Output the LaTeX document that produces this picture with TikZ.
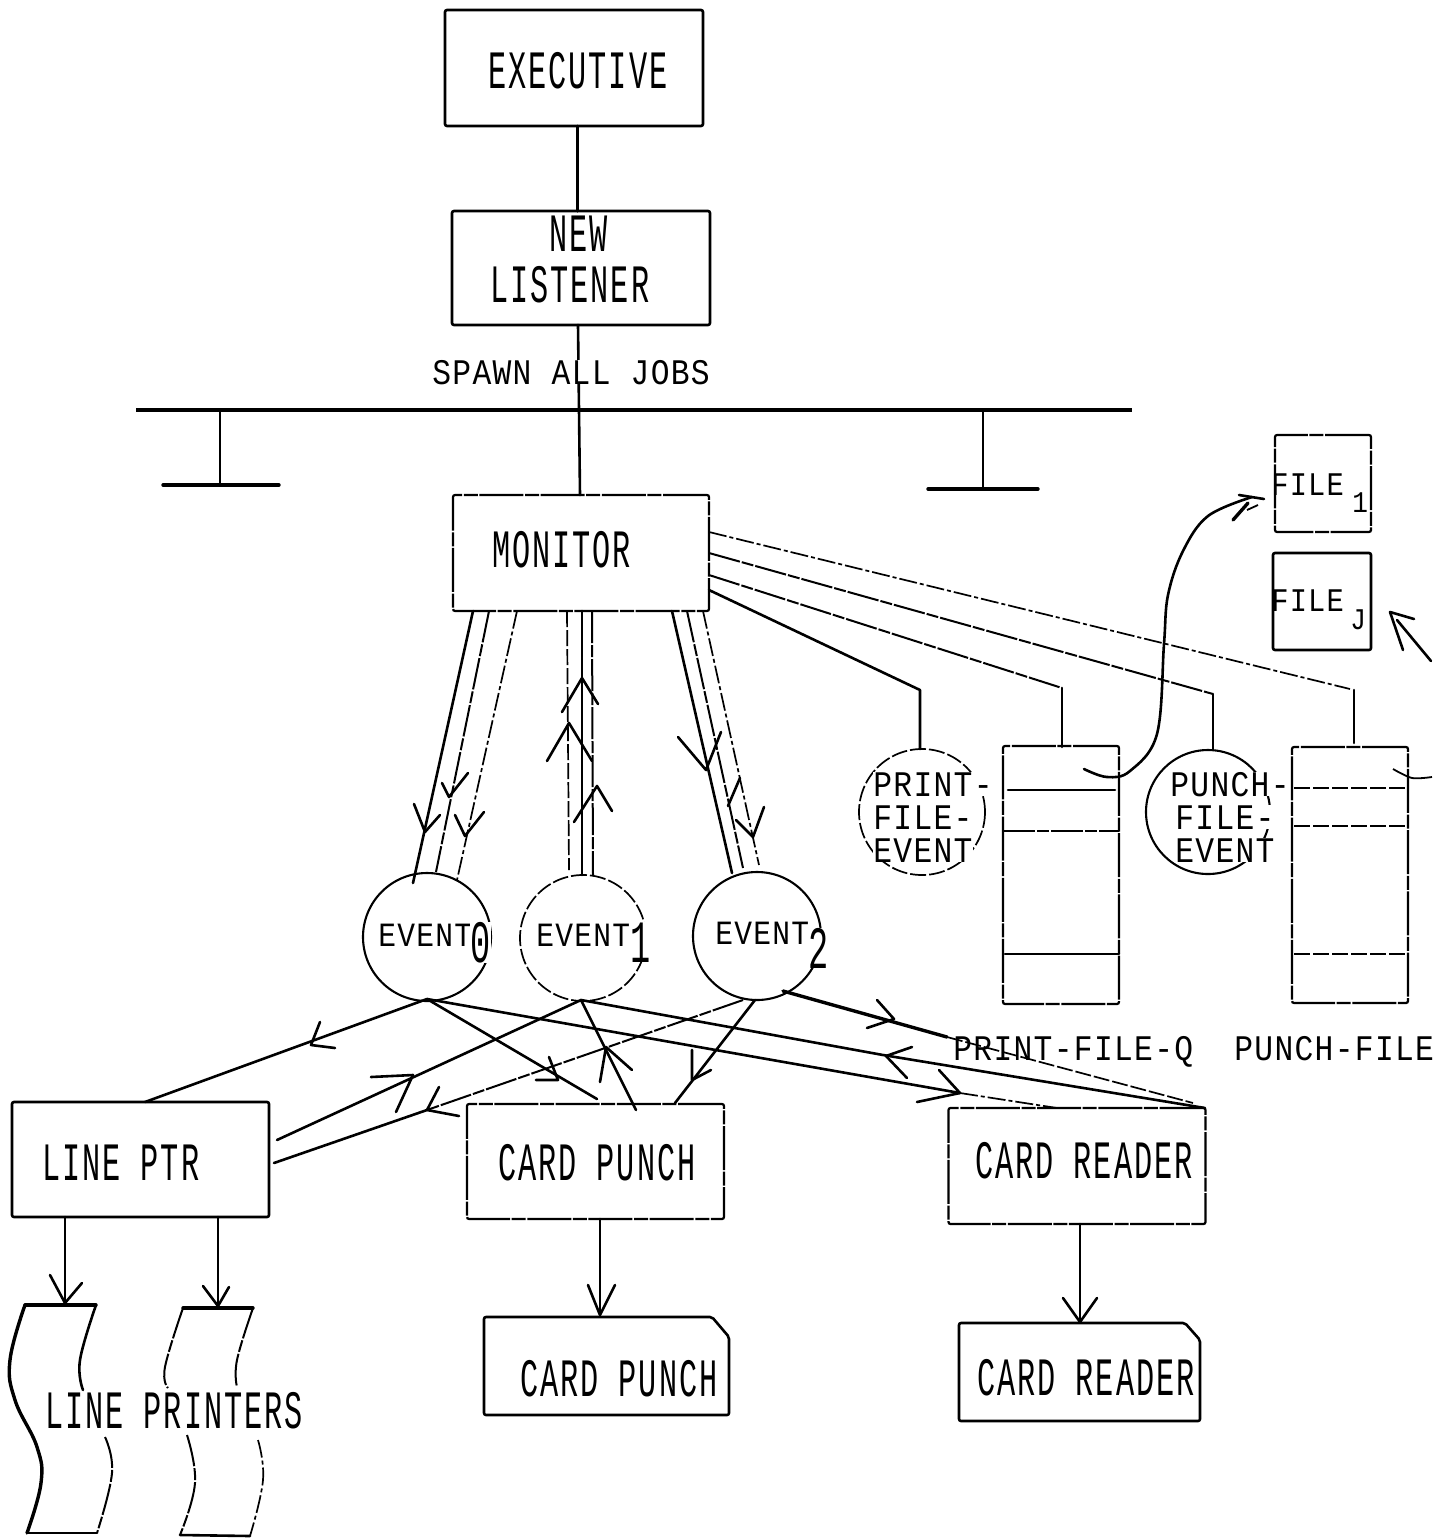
\documentclass[tikz,border=0pt]{standalone}
\usepackage{fontspec}
\setmainfont{Liberation Mono}
\newfontfamily\bigf[FakeStretch=0.56,LetterSpace=3.6]{Liberation Mono}
\newfontfamily\smf[FakeStretch=0.87,LetterSpace=3.6]{Liberation Mono}
\newcommand\bigtxt{\bigf\fontsize{27}{27}\selectfont}
\newcommand\subtxt{\bigf\fontsize{30}{30}\selectfont}
\newcommand\smtxt{\smf\fontsize{18}{18}\selectfont}
\newcommand\evtxt{\smf\fontsize{17}{17}\selectfont}
\newcommand\filetxt{\smf\fontsize{16.5}{16.5}\selectfont}
\newcommand\subsm{\smf\fontsize{15}{15}\selectfont}
\newcommand\barbs[3]{\draw[ink] (#2) -- (#1) -- (#3);}
\tikzset{
  ink/.style={line width=1.3pt,line cap=round,line join=round},
  heavy/.style={line width=1.7pt,line cap=round},
  thinink/.style={line width=.9pt},
  brk/.style={line width=1pt,dash pattern=on 16pt off 1pt on 6pt off 1pt},
  dots/.style={line width=.85pt,dash pattern=on 9pt off 1.5pt on 2pt off 1.5pt},
  faint/.style={line width=.85pt,dash pattern=on 8pt off 1.5pt},
  box/.style={draw,line width=1.3pt,inner sep=0,rounded corners=1pt},
  dashbox/.style={box,line width=1.1pt,dash pattern=on 22pt off .8pt on 7pt off .8pt},
  ring/.style={draw,circle,inner sep=0,line width=1.05pt},
  txt/.style={anchor=base west,inner sep=0},
}
\begin{document}
\begin{tikzpicture}[x=.5pt,y=-.5pt]
\useasboundingbox (0,0) rectangle (1432,1538);
% boxes
\node[box,minimum width=129pt,minimum height=58pt] (exec) at (574,68) {};
\node[box,minimum width=129pt,minimum height=57pt] (newl) at (581,268) {};
\node[dashbox,minimum width=128pt,minimum height=58pt] (mon) at (581,553) {};
\node[box,minimum width=128.5pt,minimum height=57.5pt] (lptr) at (140.5,1159.5) {};
\node[dashbox,minimum width=128.5pt,minimum height=57.5pt] (cpunch) at (595.5,1161.5) {};
\node[dashbox,minimum width=128.5pt,minimum height=58pt] (cread) at (1077,1166) {};
\node[dashbox,minimum width=48pt,minimum height=48.5pt] (f1) at (1323,483.5) {};
\node[box,minimum width=49pt,minimum height=48.5pt] (fj) at (1322,601.5) {};
% queues
\node[dashbox,minimum width=58pt,minimum height=129pt] (pq) at (1061,875) {};
\node[dashbox,minimum width=58pt,minimum height=128pt] (uq) at (1350,875) {};
% circles
\node[ring,minimum size=64pt] (e0) at (427,937) {};
\node[ring,faint,minimum size=63pt] (e1) at (583,938) {};
\node[ring,minimum size=64pt] (e2) at (757,936) {};
\node[ring,faint,minimum size=63pt] (pe) at (922,812) {};
\node[ring,minimum size=62pt] (ue) at (1208,812) {};
% trunk and bus
\coordinate (busL) at (136,410); \coordinate (busR) at (1132,410);
\coordinate (busM) at (579,410);
\coordinate (stemL) at (220,410); \coordinate (stemR) at (983,410);
\coordinate (footL1) at (163,485); \coordinate (footL2) at (279,485); \coordinate (footLm) at (220,485);
\coordinate (footR1) at (928,489); \coordinate (footR2) at (1038,489); \coordinate (footRm) at (983,489);
\draw[ink,line width=1.5pt] (577,126) -- (577,211);
\draw[ink] (578,325) -- (busM) -- (580,495);
\draw[line width=2pt] (busL) -- (busR);
\draw[ink] (stemL) -- (footLm); \draw[heavy] (footL1) -- (footL2);
\draw[ink] (stemR) -- (footRm); \draw[heavy] (footR1) -- (footR2);
% monitor to events
\draw[ink] (473,611) -- (413,883);
\draw[brk] (489,611) -- (436,872);
\draw[dots] (517,611) -- (457,880);
\draw[faint] (567,611) -- (569,870);
\draw[ink] (582,611) -- (582,875);
\draw[brk] (592,611) -- (593,875);
\draw[ink] (672,611) -- (732,873);
\draw[brk] (687,611) -- (743,868);
\draw[dots] (703,611) -- (759,865);
\barbs{425,832}{414,804}{440,815}
\barbs{449,797}{442,783}{468,773}
\barbs{465,836}{455,815}{484,812}
\barbs{582,678}{562,712}{598,704}
\barbs{569,723}{547,761}{592,761}
\barbs{597,786}{574,822}{612,811}
\barbs{706,770}{678,737}{721,732}
\draw[ink] (728,806) -- (740,778);
\barbs{753,837}{736,820}{764,807}
% monitor to file events and queues
\coordinate (k1) at (920,690); \coordinate (k2) at (1062,688);
\coordinate (k3) at (1213,694); \coordinate (k4) at (1354,690);
\draw[ink] (709,590) -- (k1) -- (920,749);
\draw[brk] (709,575) -- (k2);
\draw[ink] (k2) -- (1062,747);
\draw[brk] (709,553) -- (k3);
\draw[ink] (k3) -- (1213,750);
\draw[dots] (709,532) -- (1350,689);
\draw[ink] (k4) -- (1354,743);
% queue rows
\draw[ink] (1008,790) -- (1115,790);
\draw[brk] (1003,831) -- (1119,831);
\draw[ink] (1005,954) -- (1119,954);
\draw[faint] (1294,788) -- (1408,788);
\draw[faint] (1294,826) -- (1408,826);
\draw[faint] (1294,954) -- (1408,954);
% curves to files
\draw[ink] plot[smooth,tension=.6] coordinates {(1084,769) (1107,777) (1130,771) (1157,734) (1164,644) (1168,595) (1183,551) (1208,516) (1252,497)};
\draw[ink] (1239,495) -- (1264,499); \draw[heavy] (1233,520) -- (1248,503);
\draw[thinink] (1247,510) -- (1258,505);
\draw[thinink] plot[smooth] coordinates {(1393,769) (1412,778) (1432,777)};
\draw[ink] (1414,619) -- (1390,612) -- (1403,650);
\draw[ink] (1397,620) -- (1431,661);
% events to devices
\coordinate (j0) at (427,999); \coordinate (j1) at (581,1000);
\coordinate (j2) at (743,1000); \coordinate (j3) at (755,1000);
\draw[ink] (j0) -- (145,1102);
\barbs{311,1045}{320,1022}{335,1048}
\draw[ink] (j0) -- (597,1099);
\barbs{558,1080}{549,1057}{536,1080}
\draw[ink] (j0) -- (761,1058) -- (960,1093);
\draw[dots] (960,1093) -- (1057,1108);
\barbs{960,1093}{939,1070}{917,1102}
\draw[ink] (j1) -- (277,1140);
\barbs{413,1075}{371,1077}{396,1112}
\draw[ink] (j1) -- (636,1110);
\barbs{606,1047}{600,1082}{632,1070}
\draw[ink] (j1) -- (883,1055) -- (1205,1108);
\barbs{886,1056}{912,1047}{907,1078}
\draw[brk] (j2) -- (427,1110);
\draw[ink] (427,1110) -- (274,1163);
\barbs{427,1110}{439,1087}{459,1116}
\draw[ink] (j3) -- (675,1103);
\barbs{692,1080}{692,1050}{711,1070}
\draw[heavy] (783,991) -- (947,1037);
\barbs{894,1019}{877,1000}{867,1028}
\draw[faint] (947,1037) -- (1193,1103);
% down to devices
\draw[ink] (65,1217) -- (65,1305);
\barbs{65,1303}{50,1275}{82,1283}
\draw[ink] (218,1217) -- (218,1308);
\barbs{218,1306}{203,1286}{229,1287}
\draw[ink] (600,1219) -- (600,1315);
\barbs{600,1315}{588,1285}{615,1285}
\draw[ink] (1080,1224) -- (1080,1322);
\barbs{1080,1322}{1063,1298}{1097,1298}
% line printer paper
\draw[heavy] (25,1305) -- (96,1305);
\draw[heavy] plot[smooth,tension=.7] coordinates {(25,1305) (10,1360) (15,1400) (37,1447) (41,1483) (27,1533)};
\draw[ink] (27,1533) -- (97,1533);
\draw[ink] plot[smooth,tension=.7] coordinates {(96,1305) (80,1360) (83,1390)};
\draw[brk] plot[smooth,tension=.7] coordinates {(105,1437) (112,1473) (97,1533)};
\draw[heavy] (183,1308) -- (253,1308);
\draw[brk] plot[smooth,tension=.7] coordinates {(183,1308) (165,1367) (168,1388)};
\draw[brk] plot[smooth,tension=.7] coordinates {(187,1435) (195,1483) (180,1535)};
\draw[ink] (180,1535) -- (250,1536);
\draw[brk] plot[smooth,tension=.7] coordinates {(253,1308) (237,1360) (237,1387)};
\draw[dots] plot[smooth,tension=.7] coordinates {(258,1440) (263,1480) (250,1536)};
% cards
\draw[ink,rounded corners=1pt] (484,1317) -- (712,1317) -- (729,1337) -- (729,1415) -- (484,1415) -- cycle;
\draw[ink,rounded corners=1pt] (959,1323) -- (1185,1323) -- (1200,1340) -- (1200,1421) -- (959,1421) -- cycle;
% labels
\node[txt] (t1) at (488,88) {\bigtxt EXECUTIVE};
\node[txt] (t2) at (549,251) {\bigtxt NEW};
\node[txt] (t3) at (490,302) {\bigtxt LISTENER};
\node[txt] (t4) at (492,567) {\bigtxt MONITOR};
\node[txt] (t5) at (42,1180) {\bigtxt LINE PTR};
\node[txt] (t6) at (498,1180) {\bigtxt CARD PUNCH};
\node[txt] (t7) at (975,1178) {\bigtxt CARD READER};
\node[txt] (t8) at (520,1396) {\bigtxt CARD PUNCH};
\node[txt] (t9) at (977,1395) {\bigtxt CARD READER};
\node[txt] (t10) at (45,1428) {\bigtxt LINE PRINTERS};
\node[txt,fill=white] (t11) at (432,384) {\smtxt SPAWN ALL JOBS};
\node[txt] (t12) at (378,946) {\evtxt EVENT};
\node[txt,fill=white] (s0) at (470,962) {\subtxt 0};
\node[txt] (t13) at (536,946) {\evtxt EVENT};
\node[txt,fill=white] (s1) at (630,962) {\subtxt 1};
\node[txt] (t14) at (715,944) {\evtxt EVENT};
\node[txt,fill=white] (s2) at (808,968) {\subtxt 2};
\node[txt,fill=white] (t15) at (873,796) {\smtxt PRINT-};
\node[txt,fill=white] (t16) at (873,829) {\smtxt FILE-};
\node[txt,fill=white] (t17) at (873,862) {\smtxt EVENT};
\node[txt,fill=white] (t18) at (1170,796) {\smtxt PUNCH-};
\node[txt,fill=white] (t19) at (1175,829) {\smtxt FILE-};
\node[txt,fill=white] (t20) at (1175,862) {\smtxt EVENT};
\node[txt] (t21) at (1271,495) {\filetxt FILE};
\node[txt] (t22) at (1352,512) {\subsm 1};
\node[txt] (t23) at (1271,611) {\filetxt FILE};
\node[txt] (t24) at (1350,629) {\subsm J};
\node[txt] (t25) at (953,1060) {\smtxt PRINT-FILE-Q};
\node[txt] (t26) at (1234,1060) {\smtxt PUNCH-FILE};
\end{tikzpicture}
\end{document}
